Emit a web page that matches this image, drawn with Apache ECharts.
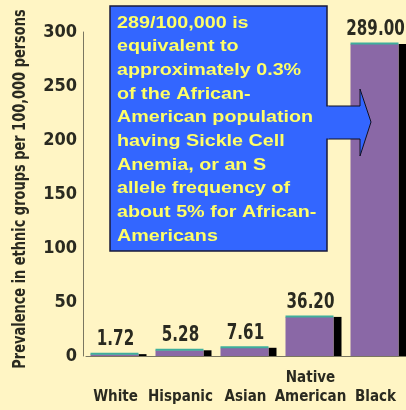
<!DOCTYPE html>
<html>
<head>
<meta charset="utf-8">
<script src="https://cdn.jsdelivr.net/npm/echarts@6/dist/echarts.min.js"></script>
<style>
html,body{margin:0;padding:0;background:#fff5c4;}
#c{width:406px;height:410px;}
</style>
</head>
<body>
<div id="c"></div>
<script>
const categories = ['White', 'Hispanic', 'Asian', 'Native\nAmerican', 'Black'];
const prevalence = [1.72, 5.28, 7.61, 36.20, 289.00];
const yTicks = { min: 0, max: 300, interval: 50 };
const yTitle = 'Prevalence in ethnic groups per 100,000 persons';
const noteLines = [
  '289/100,000 is',
  'equivalent to',
  'approximately 0.3%',
  'of the African-',
  'American population',
  'having Sickle Cell',
  'Anemia, or an S',
  'allele frequency of',
  'about 5% for African-',
  'Americans'
];

const NARROW = "'DejaVu Sans Condensed', 'Liberation Sans Narrow', sans-serif";
const TXT = '#2a2a20';

const chart = echarts.init(document.getElementById('c'));
chart.setOption({
  backgroundColor: '#fff5c4',
  animation: false,
  grid: { left: 86, right: -5, top: 32, bottom: 54, containLabel: false, outerBoundsMode: 'none' },
  xAxis: {
    type: 'category',
    data: categories,
    axisTick: { show: false },
    axisLine: { lineStyle: { color: '#7a7660', width: 1 } },
    axisLabel: {
      interval: 0,
      color: TXT,
      fontFamily: NARROW,
      fontWeight: 'bold',
      fontSize: 15,
      lineHeight: 19,
      verticalAlign: 'bottom',
      margin: 51,
      padding: [0, 6, 0, 0]
    }
  },
  yAxis: {
    type: 'value',
    min: yTicks.min, max: yTicks.max, interval: yTicks.interval,
    offset: 3,
    axisLine: { show: true, lineStyle: { color: '#7a7660', width: 1 } },
    axisTick: { show: false },
    splitLine: { show: false },
    axisLabel: { color: TXT, fontFamily: NARROW, fontWeight: 'bold', fontSize: 18, margin: 6 }
  },
  series: [{
    type: 'custom',
    data: prevalence.map((v, i) => [i, v]),
    encode: { x: 0, y: 1 },
    renderItem: function (params, api) {
      const i = api.value(0), v = api.value(1);
      const base = api.coord([i, 0]);
      const top = api.coord([i, v]);
      const cx = base[0];
      const fx = cx - 28, fw = 48, sw = 8;
      const h = base[1] - top[1];
      return {
        type: 'group',
        children: [
          { type: 'rect', shape: { x: fx + fw, y: top[1], width: sw, height: h },
            style: { fill: '#000000' } },
          { type: 'rect', shape: { x: fx, y: top[1], width: fw, height: h },
            style: { fill: '#8a68a6' } },
          { type: 'line', shape: { x1: fx, y1: top[1] - 0.5, x2: fx + fw, y2: top[1] - 0.5 },
            style: { stroke: '#3fae9c', lineWidth: 2 } },
          { type: 'text', x: fx + fw / 2 + 1, y: top[1] - 4, scaleX: 0.8,
            style: { text: v.toFixed(2), textAlign: 'center', textVerticalAlign: 'bottom',
              fill: TXT, font: 'bold 21px ' + NARROW } }
        ]
      };
    }
  }],
  graphic: [
    { type: 'text', z: 50, x: 20, y: 189, rotation: Math.PI / 2, scaleX: 0.8,
      style: { text: yTitle, fill: TXT, font: 'bold 18px ' + NARROW,
        textAlign: 'center', textVerticalAlign: 'middle' } },
    { type: 'polygon', z: 100,
      shape: { points: [[327,106],[360,106],[360,89],[371,122],[360,156],[360,139],[327,139]] },
      style: { fill: '#3366ff', stroke: '#111122', lineWidth: 1 } },
    { type: 'rect', z: 101,
      shape: { x: 110, y: 6, width: 217, height: 245 },
      style: { fill: '#3366ff', stroke: '#1a1a3a', lineWidth: 1.5 } },
    { type: 'rect', z: 102,
      shape: { x: 326, y: 106.5, width: 3, height: 32 },
      style: { fill: '#3366ff' } },
    { type: 'text', z: 103, x: 117, y: 11, scaleX: 1.16,
      style: { text: noteLines.join('\n'), fill: '#ffff66',
        font: "bold 17px 'Liberation Sans', Arial, sans-serif", lineHeight: 23.7,
        textVerticalAlign: 'top' } }
  ]
});
</script>
</body>
</html>
